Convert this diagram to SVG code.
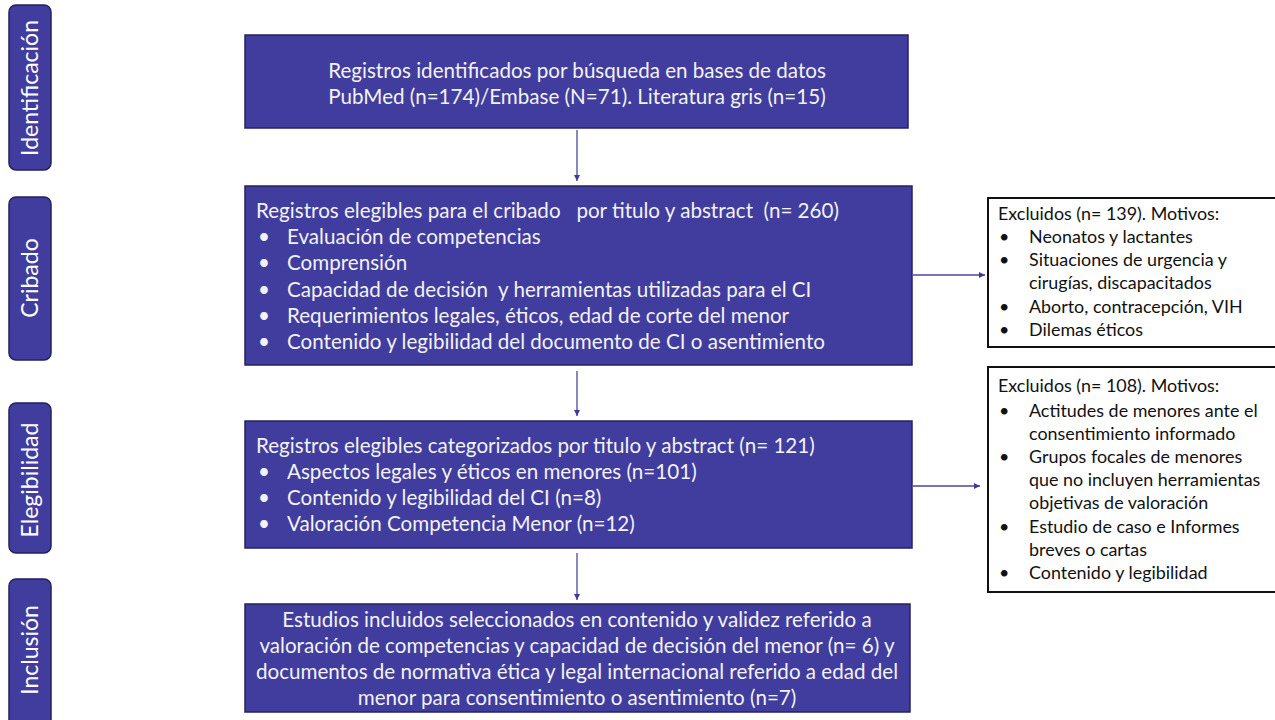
<svg xmlns="http://www.w3.org/2000/svg" width="1275" height="720" viewBox="0 0 1275 720">
<defs>
<marker id="ah" viewBox="0 0 10 10" refX="10" refY="5" markerWidth="6" markerHeight="6" orient="auto" markerUnits="userSpaceOnUse"><path d="M0,0 L10,5 L0,10 z" fill="#3d3a9c"/></marker>
</defs>
<style>
.side{fill:#413d9f;stroke:#23215e;stroke-width:1.5}
.main{fill:#413d9f;stroke:#25235f;stroke-width:1.5}
.ex{fill:#fff;stroke:#111;stroke-width:2}
.st{font-family:Lato,"Liberation Sans",sans-serif;font-size:23px;fill:#fff;text-anchor:middle}
.mt{font-family:Lato,"Liberation Sans",sans-serif;font-size:20.6px;fill:#f2f2f2}
.mc{text-anchor:middle}
.et{font-family:Lato,"Liberation Sans",sans-serif;font-size:17.9px;fill:#111}
.conn{stroke:#4a479f;stroke-width:1.3;fill:none;marker-end:url(#ah)}
</style>
<rect width="1275" height="720" fill="#fff"/>
<g id="side-identificacion"><rect class="side" x="9" y="5" width="42" height="165" rx="7"/><text class="st" transform="translate(38,88) rotate(-90)">Identificación</text></g>
<g id="side-cribado"><rect class="side" x="9" y="197" width="42" height="163" rx="7"/><text class="st" transform="translate(38,278) rotate(-90)">Cribado</text></g>
<g id="side-elegibilidad"><rect class="side" x="9" y="403" width="42" height="150" rx="7"/><text class="st" transform="translate(38,480) rotate(-90)">Elegibilidad</text></g>
<g id="side-inclusion"><rect class="side" x="9" y="579" width="42" height="150" rx="7"/><text class="st" transform="translate(38,650) rotate(-90)">Inclusión</text></g>

<g id="box-identificacion"><rect class="main" x="245" y="35" width="663" height="93"/>
<text class="mt mc" x="577" y="78">Registros identificados por búsqueda en bases de datos</text>
<text class="mt mc" x="577" y="104">PubMed (n=174)/Embase (N=71). Literatura gris (n=15)</text></g>

<g id="box-cribado"><rect class="main" x="245" y="186" width="667" height="179"/>
<text class="mt" x="256" y="218" xml:space="preserve">Registros elegibles para el cribado   por titulo y abstract  (n= 260)</text>
<text class="mt" x="258" y="244">•</text><text class="mt" x="287" y="244">Evaluación de competencias</text>
<text class="mt" x="258" y="270">•</text><text class="mt" x="287" y="270">Comprensión</text>
<text class="mt" x="258" y="297">•</text><text class="mt" x="287" y="297" xml:space="preserve">Capacidad de decisión  y herramientas utilizadas para el CI</text>
<text class="mt" x="258" y="323">•</text><text class="mt" x="287" y="323">Requerimientos legales, éticos, edad de corte del menor</text>
<text class="mt" x="258" y="349">•</text><text class="mt" x="287" y="349">Contenido y legibilidad del documento de CI o asentimiento</text></g>

<g id="box-elegibilidad"><rect class="main" x="245" y="421" width="667" height="127"/>
<text class="mt" x="256" y="453">Registros elegibles categorizados por titulo y abstract (n= 121)</text>
<text class="mt" x="258" y="479">•</text><text class="mt" x="287" y="479">Aspectos legales y éticos en menores (n=101)</text>
<text class="mt" x="258" y="505">•</text><text class="mt" x="287" y="505">Contenido y legibilidad del CI (n=8)</text>
<text class="mt" x="258" y="531">•</text><text class="mt" x="287" y="531">Valoración Competencia Menor (n=12)</text></g>

<g id="box-inclusion"><rect class="main" x="245" y="604" width="665" height="108"/>
<text class="mt mc" x="577" y="627">Estudios incluidos seleccionados en contenido y validez referido a</text>
<text class="mt mc" x="577" y="653">valoración de competencias y capacidad de decisión del menor (n= 6) y</text>
<text class="mt mc" x="577" y="679">documentos de normativa ética y legal internacional referido a edad del</text>
<text class="mt mc" x="577" y="705">menor para consentimiento o asentimiento (n=7)</text></g>

<g id="box-excluidos-1"><rect class="ex" x="988" y="198" width="296" height="149"/>
<text class="et" x="998" y="220">Excluidos (n= 139). Motivos:</text>
<text class="et" x="999" y="243">•</text><text class="et" x="1029" y="243">Neonatos y lactantes</text>
<text class="et" x="999" y="266">•</text><text class="et" x="1029" y="266">Situaciones de urgencia y</text>
<text class="et" x="1029" y="289">cirugías, discapacitados</text>
<text class="et" x="999" y="313">•</text><text class="et" x="1029" y="313">Aborto, contracepción, VIH</text>
<text class="et" x="999" y="336">•</text><text class="et" x="1029" y="336">Dilemas éticos</text></g>

<g id="box-excluidos-2"><rect class="ex" x="988" y="367" width="296" height="225"/>
<text class="et" x="998" y="392">Excluidos (n= 108). Motivos:</text>
<text class="et" x="999" y="417">•</text><text class="et" x="1029" y="417">Actitudes de menores ante el</text>
<text class="et" x="1029" y="440">consentimiento informado</text>
<text class="et" x="999" y="463">•</text><text class="et" x="1029" y="463">Grupos focales de menores</text>
<text class="et" x="1029" y="486">que no incluyen herramientas</text>
<text class="et" x="1029" y="509">objetivas de valoración</text>
<text class="et" x="999" y="533">•</text><text class="et" x="1029" y="533">Estudio de caso e Informes</text>
<text class="et" x="1029" y="556">breves o cartas</text>
<text class="et" x="999" y="579">•</text><text class="et" x="1029" y="579">Contenido y legibilidad</text></g>

<g id="connectors">
<line class="conn" x1="577" y1="130" x2="577" y2="181"/>
<line class="conn" x1="577" y1="371" x2="577" y2="416"/>
<line class="conn" x1="577" y1="553" x2="577" y2="600"/>
<line class="conn" x1="913" y1="275" x2="985" y2="275"/>
<line class="conn" x1="913" y1="486" x2="980" y2="486"/>
</g>
</svg>
